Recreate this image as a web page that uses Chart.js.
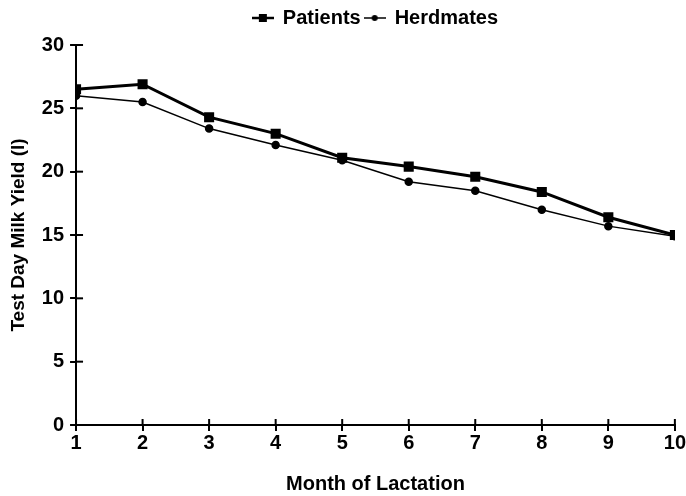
<!DOCTYPE html>
<html><head><meta charset="utf-8">
<script src="https://cdn.jsdelivr.net/npm/chart.js@4/dist/chart.umd.min.js"></script>
<style>html,body{margin:0;padding:0;background:#fff}#wrap{width:686px;height:496px}</style>
</head><body><div id="wrap"><canvas id="c" width="686" height="496"></canvas></div>
<script>
const months = [1,2,3,4,5,6,7,8,9,10];
const patients = [26.5,26.9,24.3,23.0,21.1,20.4,19.6,18.4,16.4,15.0];
const herdmates = [26.0,25.5,23.4,22.1,20.9,19.2,18.5,17.0,15.7,14.9];
const yTicks = [0,5,10,15,20,25,30];

const FONT='Liberation Sans, Arial, sans-serif';

function legendIcon(kind){
  const c=document.createElement('canvas'); c.width=22; c.height=12;
  const g=c.getContext('2d'); g.strokeStyle='#000'; g.fillStyle='#000';
  g.lineWidth = kind==='sq'?2.5:1.5;
  g.beginPath(); g.moveTo(0,6); g.lineTo(22,6); g.stroke();
  if(kind==='sq'){ g.fillRect(7,2,8,8); } else { g.beginPath(); g.arc(11,6,3,0,Math.PI*2); g.fill(); }
  return c;
}
const icons={sq:legendIcon('sq'),ci:legendIcon('ci')};

const legendSpace={id:'legendSpace',
  beforeInit(chart){
    const lg=chart.legend; if(!lg) return;
    const orig=lg.fit;
    lg.fit=function(){orig.call(this); this.height+=7;};
  },
  afterLayout(chart){
    const lg=chart.legend, a=chart.chartArea; if(!lg||!a) return;
    const c=(a.left+a.right)/2, w=lg.right-lg.left;
    lg.left=c-w/2; lg.right=c+w/2;
  }
};

const crossTicks={id:'crossTicks',afterDraw(chart){
  const ctx=chart.ctx, x=chart.scales.x, y=chart.scales.y;
  ctx.save(); ctx.strokeStyle='#000'; ctx.lineWidth=2;
  months.forEach(m=>{const px=x.getPixelForValue(m); ctx.beginPath(); ctx.moveTo(px,y.bottom-6); ctx.lineTo(px,y.bottom); ctx.stroke();});
  yTicks.forEach(v=>{const py=y.getPixelForValue(v); ctx.beginPath(); ctx.moveTo(x.left,py); ctx.lineTo(x.left+7,py); ctx.stroke();});
  ctx.restore();
}};

new Chart(document.getElementById('c'),{
  type:'line',
  data:{datasets:[
    {label:'Patients',data:months.map((m,i)=>({x:m,y:patients[i]})),borderColor:'#000',backgroundColor:'#000',borderWidth:3,pointStyle:'rect',pointRadius:5,pointHoverRadius:5,tension:0},
    {label:'Herdmates',data:months.map((m,i)=>({x:m,y:herdmates[i]})),borderColor:'#000',backgroundColor:'#000',borderWidth:1.5,pointStyle:'circle',pointRadius:3.5,pointHoverRadius:3.5,tension:0}
  ]},
  options:{
    responsive:false,animation:false,
    layout:{padding:{left:7,right:9,top:4,bottom:0}},
    plugins:{
      tooltip:{enabled:false},
      legend:{display:true,position:'top',
        labels:{color:'#000',font:{family:FONT,size:20,weight:'bold'},usePointStyle:true,boxWidth:22,boxHeight:12,padding:4,
          generateLabels(chart){return chart.data.datasets.map((d,i)=>({text:d.label,pointStyle:i===0?icons.sq:icons.ci,fillStyle:'#000',strokeStyle:'#000',lineWidth:0,datasetIndex:i,fontColor:'#000'}));}
        }}
    },
    scales:{
      x:{type:'linear',min:1,max:10,
        ticks:{stepSize:1,color:'#000',font:{family:FONT,size:20,weight:'bold'},padding:0},
        grid:{drawOnChartArea:false,drawTicks:true,tickLength:6,color:'#000',lineWidth:2},
        border:{color:'#000',width:2},
        title:{display:true,text:'Month of Lactation',color:'#000',font:{family:FONT,size:20,weight:'bold'},padding:{top:17,bottom:0}}
      },
      y:{min:0,max:30,
        afterBuildTicks(s){s.ticks=yTicks.map(v=>({value:v}));},
        ticks:{color:'#000',font:{family:FONT,size:20,weight:'bold'},padding:6},
        grid:{drawOnChartArea:false,drawTicks:true,tickLength:6,color:'#000',lineWidth:2},
        border:{color:'#000',width:2},
        title:{display:true,text:'Test Day Milk Yield (l)',color:'#000',font:{family:FONT,size:19,weight:'bold'},padding:{top:0,bottom:6}}
      }
    }
  },
  plugins:[legendSpace,crossTicks]
});
</script></body></html>
